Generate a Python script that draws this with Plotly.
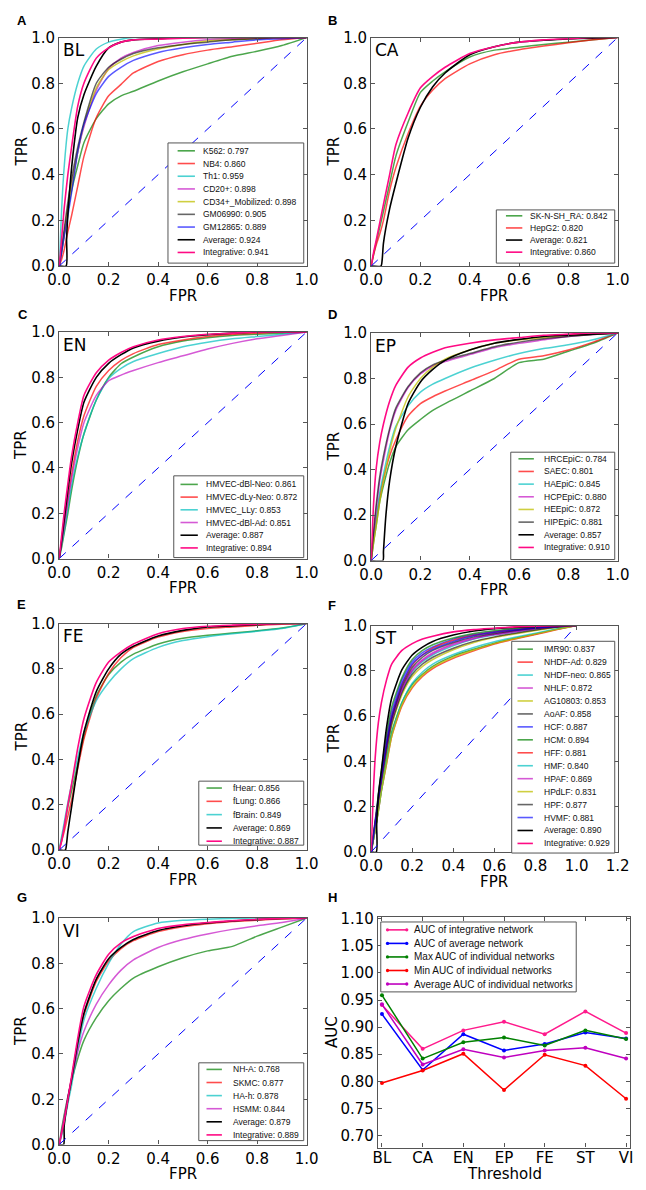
import plotly.graph_objects as go

W, HGT = 646, 1190

# ---------------- data ----------------
G = [0, .01, .02, .035, .05, .075, .1, .15, .2, .25, .3, .4, .5, .6, .7, .8, .9, 1.0]
DIAG = [0, 1]

# BL
BL_K562 = [0, .06, .13, .24, .33, .44, .54, .645, .71, .745, .765, .81, .85, .885, .918, .94, .965, 1]
BL_NB4 = [0, .03, .07, .15, .22, .35, .48, .65, .745, .795, .845, .895, .925, .945, .96, .975, .99, 1]
BL_TH1 = [0, .25, .43, .6, .69, .8, .875, .95, .98, .993, 1, 1, 1, 1, 1, 1, 1, 1]
BL_CD20 = [0, .07, .14, .25, .35, .5, .61, .77, .865, .91, .935, .965, .98, .99, .995, 1, 1, 1]
BL_CD34 = [0, .07, .14, .25, .35, .5, .62, .78, .86, .895, .92, .95, .97, .985, .99, .995, 1, 1]
BL_GM06990 = [0, .08, .16, .28, .38, .52, .63, .8, .87, .905, .93, .955, .97, .98, .99, .995, 1, 1]
BL_GM12865 = [0, .06, .13, .22, .32, .5, .62, .755, .83, .87, .9, .935, .955, .97, .98, .99, .995, 1]
BL_AVG_FPR = [0, .028, .03, .04, .055, .075, .1, .15, .2, .25, .3, .4, .5, .7, 1]
BL_AVG = [0, 0, .12, .3, .48, .65, .75, .875, .955, .98, .99, .995, 1, 1, 1]
BL_INT = [0, .12, .25, .4, .52, .7, .8, .91, .955, .98, .99, .993, .997, 1, 1, 1, 1, 1]

# CA
CA_SKNSH = [0, .05, .1, .17, .24, .36, .48, .63, .76, .81, .85, .915, .945, .958, .97, .98, .99, 1]
CA_HEPG2 = [0, .05, .09, .14, .2, .33, .43, .58, .7, .77, .82, .885, .925, .947, .963, .977, .99, 1]
CA_AVG_FPR = [0, .04, .045, .05, .075, .1, .15, .2, .25, .3, .4, .5, .6, .7, .8, 1]
CA_AVG = [0, 0, .03, .1, .25, .36, .56, .695, .785, .845, .925, .96, .98, .988, .994, 1]
CA_INT = [0, .06, .11, .19, .27, .4, .53, .67, .78, .83, .87, .93, .96, .98, .99, .995, 1, 1]

# EN
EN_DBLNEO = [0, .05, .11, .2, .3, .44, .55, .7, .8, .86, .89, .935, .96, .975, .985, .99, .995, 1]
EN_DLYNEO = [0, .07, .15, .26, .37, .52, .63, .76, .83, .875, .905, .945, .965, .98, .99, .995, 1, 1]
EN_LLY = [0, .06, .12, .22, .32, .45, .55, .7, .795, .84, .87, .905, .935, .955, .97, .98, .99, 1]
EN_DBLAD = [0, .07, .14, .25, .35, .49, .6, .72, .785, .81, .83, .865, .895, .925, .95, .97, .985, 1]
EN_AVG = [0, .08, .17, .3, .42, .57, .69, .8, .862, .9, .93, .96, .978, .988, .995, 1, 1, 1]
EN_INT = [0, .1, .2, .33, .45, .6, .72, .82, .876, .91, .935, .965, .98, .99, .995, 1, 1, 1]

# EP
EP_HRCE = [0, .08, .15, .26, .33, .43, .5, .575, .62, .66, .69, .745, .8, .87, .885, .92, .955, 1]
EP_SAEC = [0, .1, .17, .28, .36, .46, .53, .635, .69, .72, .745, .79, .835, .885, .9, .925, .96, 1]
EP_HAE = [0, .1, .18, .3, .38, .5, .59, .68, .74, .775, .8, .845, .88, .91, .932, .948, .97, 1]
EP_HCPE = [0, .12, .22, .35, .44, .57, .66, .76, .82, .855, .875, .905, .935, .955, .97, .985, .993, 1]
EP_HEE = [0, .08, .15, .26, .35, .48, .58, .72, .8, .85, .885, .925, .955, .97, .98, .99, .995, 1]
EP_HIPE = [0, .13, .24, .37, .46, .58, .67, .765, .825, .86, .88, .91, .94, .96, .975, .985, .993, 1]
EP_AVG_FPR = [0, .048, .05, .06, .075, .1, .15, .2, .25, .3, .4, .5, .6, .7, .8, .9, 1]
EP_AVG = [0, 0, .04, .2, .35, .5, .69, .785, .84, .88, .925, .955, .972, .985, .99, .995, 1]
EP_INT = [0, .25, .4, .52, .6, .7, .77, .85, .89, .915, .935, .955, .97, .98, .99, .995, 1, 1]

# FE
FE_HEAR = [0, .05, .1, .19, .26, .38, .5, .68, .775, .83, .865, .91, .935, .948, .958, .968, .98, 1]
FE_LUNG = [0, .04, .08, .15, .22, .36, .49, .67, .78, .85, .895, .94, .965, .978, .985, .992, .997, 1]
FE_BRAIN = [0, .06, .12, .21, .29, .41, .52, .66, .74, .8, .845, .895, .925, .942, .955, .966, .978, 1]
FE_AVG_FPR = [0, .025, .03, .035, .05, .075, .1, .15, .2, .25, .3, .4, .5, .6, .7, .8, .9, 1]
FE_AVG = [0, 0, .03, .08, .19, .37, .52, .7, .8, .865, .9, .945, .97, .985, .99, .995, 1, 1]
FE_INT = [0, .04, .1, .2, .29, .45, .58, .74, .83, .875, .91, .955, .978, .988, .993, .997, 1, 1]

# ST
ST_IMR90 = [0, .05, .1, .19, .28, .41, .53, .66, .74, .785, .82, .865, .895, .922, .944, .963, .983, 1]
ST_NHDFAD = [0, .05, .1, .18, .27, .39, .51, .645, .725, .775, .81, .855, .888, .918, .94, .96, .981, 1]
ST_NHDFNEO = [0, .05, .1, .19, .28, .43, .56, .71, .795, .84, .87, .91, .94, .958, .972, .985, .994, 1]
ST_NHLF = [0, .06, .12, .22, .32, .46, .58, .72, .805, .85, .88, .92, .945, .962, .975, .987, .995, 1]
ST_AG10803 = [0, .05, .11, .2, .3, .44, .56, .695, .775, .82, .85, .893, .925, .947, .963, .978, .991, 1]
ST_AOAF = [0, .06, .12, .21, .31, .45, .57, .705, .785, .83, .86, .9, .93, .95, .966, .98, .992, 1]
ST_HCF = [0, .07, .14, .25, .35, .5, .62, .76, .84, .88, .905, .94, .96, .973, .983, .99, .996, 1]
ST_HCM = [0, .07, .14, .25, .36, .52, .64, .77, .85, .89, .915, .945, .965, .977, .986, .993, .998, 1]
ST_HFF = [0, .06, .13, .23, .33, .48, .6, .74, .825, .87, .9, .935, .957, .97, .98, .99, .996, 1]
ST_HMF = [0, .05, .1, .18, .27, .4, .52, .66, .745, .795, .83, .872, .903, .928, .948, .966, .985, 1]
ST_HPAF = [0, .06, .12, .22, .32, .46, .58, .715, .8, .845, .875, .915, .942, .96, .973, .986, .995, 1]
ST_HPDLF = [0, .05, .1, .18, .27, .39, .51, .65, .73, .78, .815, .86, .892, .92, .942, .962, .982, 1]
ST_HPF = [0, .06, .13, .23, .33, .47, .59, .73, .815, .86, .89, .925, .95, .965, .978, .988, .995, 1]
ST_HVMF = [0, .06, .13, .23, .33, .48, .6, .745, .83, .87, .895, .93, .955, .97, .98, .99, .996, 1]
ST_AVG_FPR = [0, .025, .027, .035, .05, .075, .1, .15, .2, .25, .3, .4, .5, .6, .7, .8, .9, 1]
ST_AVG = [0, 0, .12, .25, .36, .55, .68, .805, .87, .905, .93, .958, .976, .986, .992, .996, .999, 1]
ST_INT = [0, .25, .42, .57, .66, .76, .83, .89, .92, .94, .953, .972, .982, .988, .994, .997, .999, 1]

# VI
VI_NHA = [0, .07, .13, .21, .28, .38, .46, .56, .635, .69, .735, .785, .825, .855, .875, .92, .96, 1]
VI_SKMC = [0, .05, .1, .19, .28, .44, .57, .72, .81, .865, .9, .94, .962, .975, .985, .99, .996, 1]
VI_HAH = [0, .04, .09, .18, .26, .42, .55, .69, .8, .885, .94, .978, .99, .995, .998, 1, 1, 1]
VI_HSMM = [0, .06, .12, .21, .29, .41, .5, .62, .705, .77, .815, .87, .905, .93, .95, .966, .98, 1]
VI_AVG_FPR = [0, .018, .02, .035, .05, .075, .1, .15, .2, .25, .3, .4, .5, .6, .7, .8, .9, 1]
VI_AVG = [0, 0, .08, .2, .29, .45, .58, .73, .82, .87, .905, .945, .966, .978, .987, .993, .998, 1]
VI_INT = [0, .05, .1, .2, .3, .47, .61, .75, .84, .89, .918, .954, .97, .98, .988, .994, .998, 1]

# H summary
THRESHOLDS = ["BL", "CA", "EN", "EP", "FE", "ST", "VI"]
AUC_INTEGRATIVE = [0.941, 0.860, 0.894, 0.910, 0.887, 0.929, 0.889]
AUC_AVERAGE_NET = [0.924, 0.821, 0.887, 0.857, 0.869, 0.890, 0.879]
AUC_MAX_IND = [0.959, 0.842, 0.872, 0.881, 0.866, 0.894, 0.878]
AUC_MIN_IND = [0.797, 0.820, 0.851, 0.784, 0.849, 0.829, 0.768]
AUC_MEAN_IND = [0.942, 0.831, 0.859, 0.844, 0.857, 0.862, 0.842]
H_LABELS = ["AUC of integrative network", "AUC of average network",
            "Max AUC of individual networks", "Min AUC of individual networks",
            "Average AUC of individual networks"]

# ---------------- styles ----------------
CG = 'rgba(0,128,0,0.7)'
CR = 'rgba(255,0,0,0.7)'
CC = 'rgba(0,191,191,0.7)'
CM = 'rgba(191,0,191,0.65)'
CY = 'rgba(191,191,0,0.75)'
CK = 'rgba(0,0,0,0.6)'
CB = 'rgba(0,0,255,0.65)'
BLACK = '#000000'
PINK = '#ff0a84'

TICKFONT = dict(family='DejaVu Sans', size=15, color='black')
LEGFONT = dict(family='Liberation Sans', size=8.5, color='#111')
TITLEFONT = dict(family='DejaVu Sans', size=15, color='black')
FRAME = '#555555'


def pxx(p):
    return p / W


def pxy(p):
    return 1 - p / HGT


# panel: (letter, tag, x0, x1, y0, y1, xmax, curves, legend geometry)
panels = [
    ('A', 'BL', 49, 306, 29, 261, 1.0, [
        ('K562: 0.797', G, BL_K562, CG), ('NB4: 0.860', G, BL_NB4, CR),
        ('Th1: 0.959', G, BL_TH1, CC), ('CD20+: 0.898', G, BL_CD20, CM),
        ('CD34+_Mobilized: 0.898', G, BL_CD34, CY), ('GM06990: 0.905', G, BL_GM06990, CK),
        ('GM12865: 0.889', G, BL_GM12865, CB), ('Average: 0.924', BL_AVG_FPR, BL_AVG, BLACK),
        ('Integrative: 0.941', G, BL_INT, PINK)],
     (162, 136, 303, 258, 144, 12.9, 172, 190, 196)),
    ('B', 'CA', 373, 629, 29, 261, 1.0, [
        ('SK-N-SH_RA: 0.842', G, CA_SKNSH, CG), ('HepG2: 0.820', G, CA_HEPG2, CR),
        ('Average: 0.821', CA_AVG_FPR, CA_AVG, BLACK), ('Integrative: 0.860', G, CA_INT, PINK)],
     (503, 204, 626, 258, 210, 12.3, 513, 530, 536)),
    ('C', 'EN', 49, 306, 328, 558, 1.0, [
        ('HMVEC-dBl-Neo: 0.861', G, EN_DBLNEO, CG), ('HMVEC-dLy-Neo: 0.872', G, EN_DLYNEO, CR),
        ('HMVEC_LLy: 0.853', G, EN_LLY, CC), ('HMVEC-dBl-Ad: 0.851', G, EN_DBLAD, CM),
        ('Average: 0.887', G, EN_AVG, BLACK), ('Integrative: 0.894', G, EN_INT, PINK)],
     (168, 474, 303, 557, 482.7, 12.9, 175, 193, 199)),
    ('D', 'EP', 373, 629, 329, 560, 1.0, [
        ('HRCEpiC: 0.784', G, EP_HRCE, CG), ('SAEC: 0.801', G, EP_SAEC, CR),
        ('HAEpiC: 0.845', G, EP_HAE, CC), ('HCPEpiC: 0.880', G, EP_HCPE, CM),
        ('HEEpiC: 0.872', G, EP_HEE, CY), ('HIPEpiC: 0.881', G, EP_HIPE, CK),
        ('Average: 0.857', EP_AVG_FPR, EP_AVG, BLACK), ('Integrative: 0.910', G, EP_INT, PINK)],
     (518, 450, 626, 559, 456.7, 12.86, 526, 542, 550)),
    ('E', 'FE', 49, 306, 624, 854, 1.0, [
        ('fHear: 0.856', G, FE_HEAR, CG), ('fLung: 0.866', G, FE_LUNG, CR),
        ('fBrain: 0.849', G, FE_BRAIN, CC), ('Average: 0.869', FE_AVG_FPR, FE_AVG, BLACK),
        ('Integrative: 0.887', G, FE_INT, PINK)],
     (194, 784, 303, 849, 791, 13.5, 202, 218, 227)),
    ('F', 'ST', 373, 629, 626, 856, 1.2, [
        ('IMR90: 0.837', G, ST_IMR90, CG), ('NHDF-Ad: 0.829', G, ST_NHDFAD, CR),
        ('NHDF-neo: 0.865', G, ST_NHDFNEO, CC), ('NHLF: 0.872', G, ST_NHLF, CM),
        ('AG10803: 0.853', G, ST_AG10803, CY), ('AoAF: 0.858', G, ST_AOAF, CK),
        ('HCF: 0.887', G, ST_HCF, CB), ('HCM: 0.894', G, ST_HCM, CG),
        ('HFF: 0.881', G, ST_HFF, CR), ('HMF: 0.840', G, ST_HMF, CC),
        ('HPAF: 0.869', G, ST_HPAF, CM), ('HPdLF: 0.831', G, ST_HPDLF, CY),
        ('HPF: 0.877', G, ST_HPF, CK), ('HVMF: 0.881', G, ST_HVMF, CB),
        ('Average: 0.890', ST_AVG_FPR, ST_AVG, BLACK), ('Integrative: 0.929', G, ST_INT, PINK)],
     (519, 642, 626, 857, 650, 13.15, 525, 541, 550)),
    ('G', 'VI', 49, 306, 923, 1153, 1.0, [
        ('NH-A: 0.768', G, VI_NHA, CG), ('SKMC: 0.877', G, VI_SKMC, CR),
        ('HA-h: 0.878', G, VI_HAH, CC), ('HSMM: 0.844', G, VI_HSMM, CM),
        ('Average: 0.879', VI_AVG_FPR, VI_AVG, BLACK), ('Integrative: 0.889', G, VI_INT, PINK)],
     (194, 1070, 303, 1149, 1076.7, 13.3, 202, 218, 227)),
]

LETTER_POS = {'A': (3, 12), 'B': (326, 12), 'C': (4, 310), 'D': (326, 310),
              'E': (3, 605), 'F': (326, 606), 'G': (3, 902), 'H': (326, 902)}

fig = go.Figure()
layout = dict(width=W, height=HGT, margin=dict(l=0, r=0, t=0, b=0),
              paper_bgcolor='white', plot_bgcolor='white', showlegend=False)
shapes, annotations = [], []


def axis_common():
    return dict(showgrid=False, zeroline=False, showline=True, linecolor=FRAME,
                linewidth=1.2, mirror='allticks', ticks='inside', ticklen=4,
                tickcolor=FRAME, tickwidth=1, tickfont=TICKFONT)


def legend_box(x0, y0, x1, y1):
    shapes.append(dict(type='rect', xref='paper', yref='paper', x0=pxx(x0), x1=pxx(x1),
                       y0=pxy(y1), y1=pxy(y0), line=dict(color=FRAME, width=1),
                       fillcolor='white', layer='above'))


for i, (letter, tag, x0, x1, y0, y1, xmax, curves, leg) in enumerate(panels):
    n = i + 1
    xa = 'xaxis' if n == 1 else f'xaxis{n}'
    ya = 'yaxis' if n == 1 else f'yaxis{n}'
    xr = 'x' if n == 1 else f'x{n}'
    yr = 'y' if n == 1 else f'y{n}'
    xt = [0, .2, .4, .6, .8, 1.0] + ([1.2] if xmax > 1 else [])
    layout[xa] = dict(axis_common(), domain=[pxx(x0), pxx(x1)], range=[0, xmax],
                      tickvals=xt, tickformat='.1f', anchor=yr)
    layout[ya] = dict(axis_common(), domain=[pxy(y1), pxy(y0)], range=[0, 1],
                      tickvals=[0, .2, .4, .6, .8, 1.0], tickformat='.1f', anchor=xr)
    for name, fx, fy, col in curves:
        fig.add_trace(go.Scatter(x=fx, y=fy, mode='lines', name=name, xaxis=xr, yaxis=yr,
                                 line=dict(color=col, width=1.6 if col in (BLACK, PINK) else 1.5,
                                           shape='spline', smoothing=0.6),
                                 hoverinfo='skip'))
    fig.add_trace(go.Scatter(x=DIAG, y=DIAG, mode='lines', xaxis=xr, yaxis=yr,
                             line=dict(color='#0000ff', width=1, dash='dash'), hoverinfo='skip'))
    # legend
    bx0, by0, bx1, by1, fy0, dy, lx0, lx1, tx = leg
    legend_box(bx0, by0, bx1, by1)
    for k, (name, fx, fy, col) in enumerate(curves):
        yy = fy0 + k * dy
        shapes.append(dict(type='line', xref='paper', yref='paper', x0=pxx(lx0), x1=pxx(lx1),
                           y0=pxy(yy), y1=pxy(yy), line=dict(color=col, width=1.6), layer='above'))
        annotations.append(dict(text=name, xref='paper', yref='paper', x=pxx(tx), y=pxy(yy),
                                xanchor='left', yanchor='middle', showarrow=False, font=LEGFONT))
    # tag
    annotations.append(dict(text=tag, xref='paper', yref='paper', x=pxx(x0 + 2), y=pxy(y0 + 13),
                            xanchor='left', yanchor='middle', showarrow=False,
                            font=dict(family='DejaVu Sans', size=17, color='black')))
    # axis titles
    annotations.append(dict(text='FPR', xref='paper', yref='paper', x=pxx((x0 + x1) / 2),
                            y=pxy(y1 + 30), xanchor='center', yanchor='middle', showarrow=False,
                            font=TITLEFONT))
    annotations.append(dict(text='TPR', xref='paper', yref='paper', x=pxx(x0 - 39),
                            y=pxy((y0 + y1) / 2), xanchor='center', yanchor='middle',
                            showarrow=False, textangle=-90, font=TITLEFONT))

# ---------------- panel H ----------------
hx0, hx1, hy0, hy1 = 380, 642, 922, 1156
layout['xaxis8'] = dict(axis_common(), domain=[pxx(hx0), pxx(hx1)], range=[-0.1, 6.1],
                        type='category', anchor='y8', ticklabelstandoff=-4)
layout['yaxis8'] = dict(axis_common(), domain=[pxy(hy1), pxy(hy0)], range=[0.678, 1.103],
                        tickvals=[0.70, 0.75, 0.80, 0.85, 0.90, 0.95, 1.00, 1.05, 1.10],
                        tickformat='.2f', anchor='x8')
H_SERIES = [(AUC_INTEGRATIVE, '#ff1a8c'), (AUC_AVERAGE_NET, '#0000ff'),
            (AUC_MAX_IND, '#008000'), (AUC_MIN_IND, '#ff0000'), (AUC_MEAN_IND, '#bf00bf')]
for (vals, col), lab in zip(H_SERIES, H_LABELS):
    fig.add_trace(go.Scatter(x=THRESHOLDS, y=vals, mode='lines+markers', name=lab,
                             xaxis='x8', yaxis='y8', line=dict(color=col, width=1.5),
                             marker=dict(color=col, size=4), hoverinfo='skip'))

legend_box(383, 927, 586, 998)
for k, ((vals, col), lab) in enumerate(zip(H_SERIES, H_LABELS)):
    yy = 935 + k * 13.75
    shapes.append(dict(type='line', xref='paper', yref='paper', x0=pxx(390), x1=pxx(410),
                       y0=pxy(yy), y1=pxy(yy), line=dict(color=col, width=1.6), layer='above'))
    for cx in (390, 410):
        shapes.append(dict(type='circle', xref='paper', yref='paper', x0=pxx(cx - 1.7),
                           x1=pxx(cx + 1.7), y0=pxy(yy + 1.7), y1=pxy(yy - 1.7),
                           fillcolor=col, line=dict(color=col, width=0), layer='above'))
    annotations.append(dict(text=lab, xref='paper', yref='paper', x=pxx(415), y=pxy(yy),
                            xanchor='left', yanchor='middle', showarrow=False,
                            font=dict(family='Liberation Sans', size=10, color='#111')))

annotations.append(dict(text='Threshold', xref='paper', yref='paper', x=pxx((hx0 + hx1) / 2),
                        y=pxy(1183), xanchor='center', yanchor='middle', showarrow=False,
                        font=TITLEFONT))
annotations.append(dict(text='AUC', xref='paper', yref='paper', x=pxx(333),
                        y=pxy((hy0 + hy1) / 2), xanchor='center', yanchor='middle',
                        showarrow=False, textangle=-90, font=TITLEFONT))

for letter, (lx, ly) in LETTER_POS.items():
    annotations.append(dict(text=f'<b>{letter}</b>', xref='paper', yref='paper', x=pxx(lx),
                            y=pxy(ly), xanchor='left', yanchor='middle', showarrow=False,
                            font=dict(family='Liberation Sans', size=13, color='black')))

layout['shapes'] = shapes
layout['annotations'] = annotations
fig.update_layout(**layout)
fig.write_html('out.html', config={'displayModeBar': False},
               post_script="document.body.style.margin='0px';")
